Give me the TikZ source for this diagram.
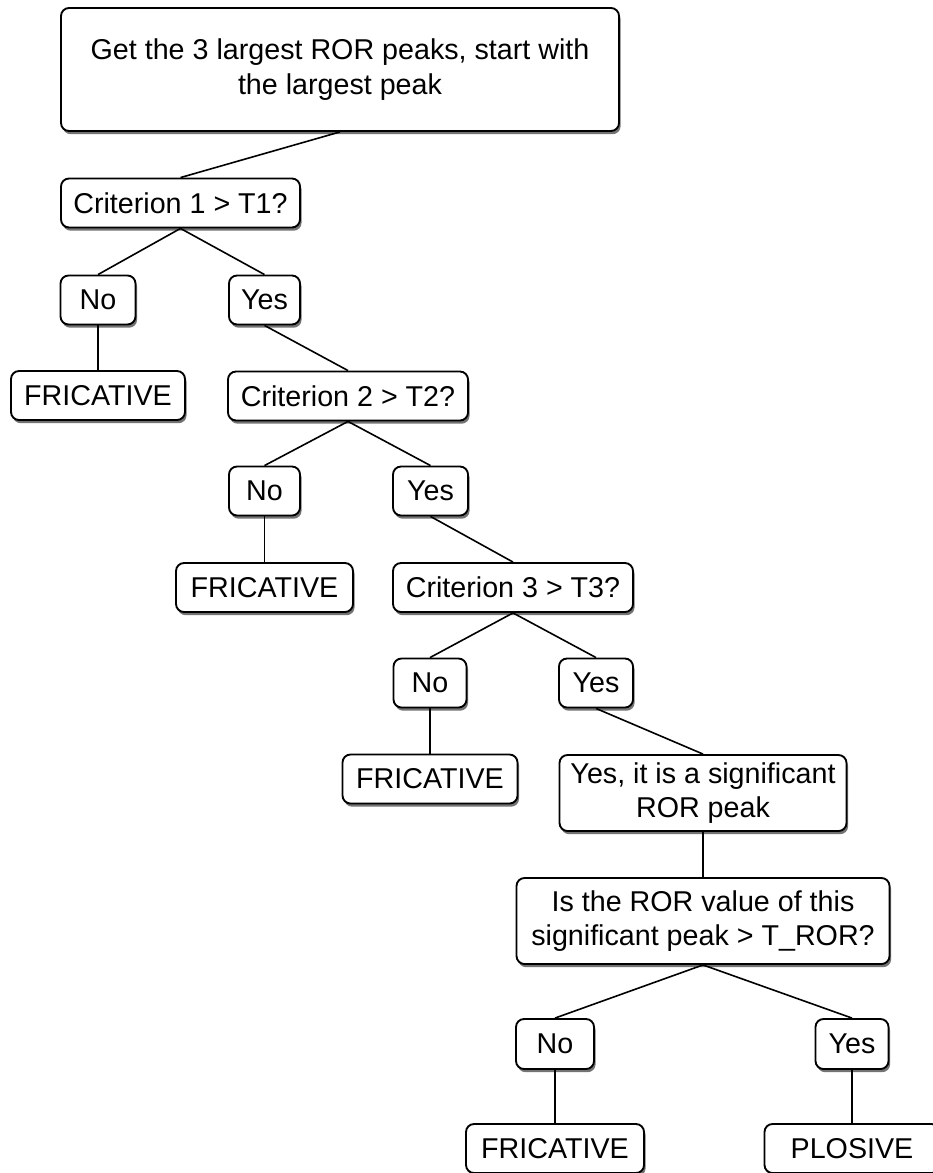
\documentclass[tikz,border=0pt]{standalone}
\usepackage{fontspec}
\setmainfont{Liberation Sans}
\usetikzlibrary{shadows}

\tikzset{every picture/.style={line width=0.75pt}}
\tikzset{
  box/.style={draw, line width=1.4pt, rounded corners=6pt, fill=white,
    drop shadow={shadow xshift=1.2pt, shadow yshift=-2.4pt, fill=black!55, opacity=1},
    inner sep=0pt, align=center, minimum height=36.75pt,
    font=\fontsize{21.5}{26}\selectfont},
  link/.style={line width=1.2pt}
}

\begin{document}
\begin{tikzpicture}[x=0.75pt,y=0.75pt,yscale=-1,xscale=1]
\useasboundingbox (0,0) rectangle (932,1173);

%Shape: Rounded Rect [id:top]
\node[box, minimum width=418.5pt, minimum height=92.25pt] (start) at (340,69.5) {Get the 3 largest ROR peaks, start with\\the largest peak};

% level 1
\node[box, minimum width=179.25pt] (crit1) at (180.5,203) {Criterion 1 > T1?};
\node[box, minimum width=56.25pt] (no1) at (98,300) {No};
\node[box, minimum width=53.25pt] (yes1) at (264.5,300) {Yes};
\node[box, minimum width=130.5pt] (fric1) at (98,395.5) {FRICATIVE};

% level 2
\node[box, minimum width=180pt] (crit2) at (348,396) {Criterion 2 > T2?};
\node[box, minimum width=53.25pt] (no2) at (264.5,491) {No};
\node[box, minimum width=56.25pt] (yes2) at (430.5,491) {Yes};
\node[box, minimum width=132.75pt] (fric2) at (264.5,587.5) {FRICATIVE};

% level 3
\node[box, minimum width=180pt] (crit3) at (513,587.5) {Criterion 3 > T3?};
\node[box, minimum width=54.75pt] (no3) at (430,683) {No};
\node[box, minimum width=55.5pt] (yes3) at (596,683) {Yes};
\node[box, minimum width=131.25pt] (fric3) at (430,779) {FRICATIVE};

% significant peak
\node[box, minimum width=215.25pt, minimum height=57pt] (signif) at (703,793) {Yes, it is a significant\\ROR peak};
\node[box, minimum width=279.75pt, minimum height=64.5pt] (torq) at (703,921) {Is the ROR value of this\\significant peak > T\_ROR?};
\node[box, minimum width=58.5pt, minimum height=37.5pt] (no4) at (555,1044) {No};
\node[box, minimum width=54.75pt, minimum height=37.5pt] (yes4) at (852,1044) {Yes};
\node[box, minimum width=133.5pt] (fric4) at (555,1148.5) {FRICATIVE};
\node[box, minimum width=131.25pt] (plosive) at (852,1148.5) {PLOSIVE};

%Straight Lines
\draw[link] (start.south) -- (crit1.north);
\draw[link] (crit1.south) -- (no1.north);
\draw[link] (crit1.south) -- (yes1.north);
\draw[link] (no1.south) -- (fric1.north);
\draw[link] (yes1.south) -- (crit2.north);
\draw[link] (crit2.south) -- (no2.north);
\draw[link] (crit2.south) -- (yes2.north);
\draw[link] (no2.south) -- (fric2.north);
\draw[link] (yes2.south) -- (crit3.north);
\draw[link] (crit3.south) -- (no3.north);
\draw[link] (crit3.south) -- (yes3.north);
\draw[link] (no3.south) -- (fric3.north);
\draw[link] (yes3.south) -- (signif.north);
\draw[link] (signif.south) -- (torq.north);
\draw[link] (torq.south) -- (no4.north);
\draw[link] (torq.south) -- (yes4.north);
\draw[link] (no4.south) -- (fric4.north);
\draw[link] (yes4.south) -- (plosive.north);

\end{tikzpicture}
\end{document}
